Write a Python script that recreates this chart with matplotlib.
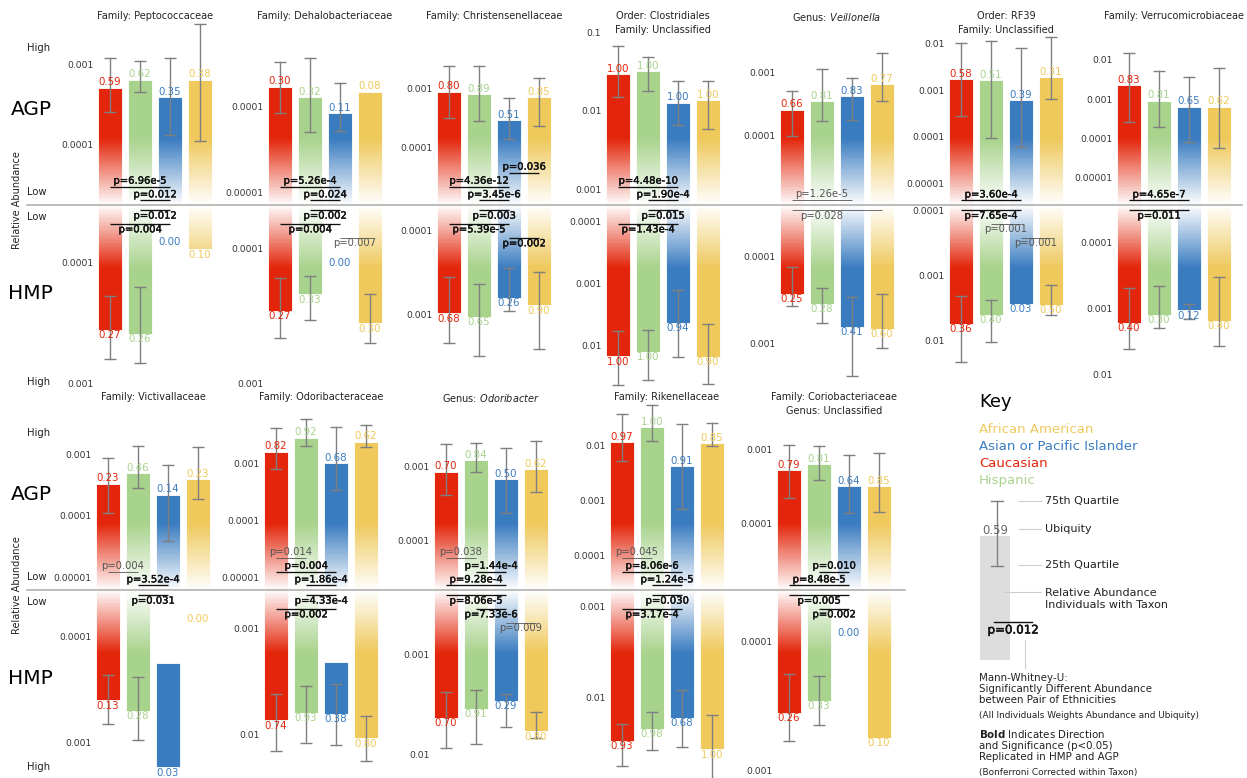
"""
Ubiquity / relative abundance of taxa by ethnicity, AGP (top) vs HMP (mirrored below).
"""
import numpy as np
import matplotlib
matplotlib.use('Agg')
import matplotlib.pyplot as plt
import matplotlib.patheffects as pe
from matplotlib.patches import Rectangle
from matplotlib.ticker import NullLocator
from matplotlib.transforms import blended_transform_factory

RED, GREEN, BLUE, YELLOW = '#E3260B', '#A8D38D', '#3A7CC0', '#EFC95C'
BAR_COLORS = [RED, GREEN, BLUE, YELLOW]
ERR_GREY = '#7F7F7F'
DARK = '#222222'
nan = np.nan

plt.rcParams.update({
    'font.family': 'DejaVu Sans',
    'mathtext.fontset': 'dejavusans',
})

# === Data (bar order: Caucasian, Hispanic, Asian/PI, African American) ===
titles = [
    'Family: Peptococcaceae', 'Family: Dehalobacteriaceae', 'Family: Christensenellaceae',
    'Order: Clostridiales\nFamily: Unclassified', 'Genus: $\\it{Veillonella}$',
    'Order: RF39\nFamily: Unclassified', 'Family: Verrucomicrobiaceae',
    'Family: Victivallaceae', 'Family: Odoribacteraceae', 'Genus: $\\it{Odoribacter}$',
    'Family: Rikenellaceae', 'Family: Coriobacteriaceae\nGenus: Unclassified',
]

agp_med = [
    [5.1e-4, 6.4e-4, 3.9e-4, 6.4e-4],
    [1.7e-4, 1.3e-4, 8.4e-5, 1.5e-4],
    [8.8e-4, 8.0e-4, 2.9e-4, 7.0e-4],
    [2.9e-2, 3.2e-2, 1.27e-2, 1.37e-2],
    [2.6e-4, 3.5e-4, 4.2e-4, 6.6e-4],
    [1.7e-3, 1.6e-3, 6.1e-4, 1.9e-3],
    [2.25e-3, 9.1e-4, 6.4e-4, 6.4e-4],
    [3.3e-4, 4.9e-4, 2.2e-4, 3.9e-4],
    [1.6e-3, 2.8e-3, 1.0e-3, 2.4e-3],
    [8.6e-4, 1.23e-3, 6.8e-4, 9.2e-4],
    [1.12e-2, 2.1e-2, 4.2e-3, 1.07e-2],
    [5.3e-4, 6.4e-4, 3.2e-4, 3.2e-4],
]
agp_q75 = [
    [1.2e-3, 1.1e-3, 1.2e-3, 3.2e-3],
    [3.3e-4, 3.7e-4, 1.9e-4, nan],
    [2.4e-3, 2.4e-3, 6.7e-4, 1.5e-3],
    [6.7e-2, 4.9e-2, 2.4e-2, 2.4e-2],
    [5.2e-4, 1.13e-3, 8.2e-4, 2.0e-3],
    [1.0e-2, 1.14e-2, 8.0e-3, 1.38e-2],
    [1.5e-2, 5.3e-3, 3.7e-3, 6.1e-3],
    [8.6e-4, 1.33e-3, 6.6e-4, 1.31e-3],
    [4.1e-3, 6.0e-3, 4.3e-3, 4.6e-3],
    [2.0e-3, 2.1e-3, 1.8e-3, 2.2e-3],
    [3.7e-2, 5.3e-2, 2.4e-2, 2.5e-2],
    [1.17e-3, 1.15e-3, 8.6e-4, 9.0e-4],
]
agp_q25 = [
    [2.5e-4, 4.5e-4, 1.3e-4, 1.1e-4],
    [8.4e-5, 5.1e-5, 5.2e-5, nan],
    [3.1e-4, 2.8e-4, 1.4e-4, 2.3e-4],
    [1.5e-2, 1.8e-2, 6.6e-3, 5.8e-3],
    [1.0e-4, 1.7e-4, 1.75e-4, 3.6e-4],
    [2.8e-4, 9.5e-5, 5.9e-5, 6.3e-4],
    [2.6e-4, 1.9e-4, 7.9e-5, 5.5e-5],
    [1.1e-4, 2.8e-4, 3.9e-5, 1.9e-4],
    [8.0e-4, 2.0e-3, 3.4e-4, 1.9e-3],
    [4.1e-4, 8.6e-4, 2.4e-4, 4.6e-4],
    [5.1e-3, 1.18e-2, 6.9e-4, 9.6e-3],
    [2.2e-4, 3.9e-4, 1.37e-4, 1.44e-4],
]
agp_ubiq = [
    [0.59, 0.62, 0.35, 0.38], [0.30, 0.32, 0.11, 0.08], [0.80, 0.89, 0.51, 0.85],
    [1.00, 1.00, 1.00, 1.00], [0.66, 0.81, 0.83, 0.77], [0.58, 0.51, 0.39, 0.31],
    [0.83, 0.81, 0.65, 0.62], [0.23, 0.46, 0.14, 0.23], [0.82, 0.92, 0.68, 0.62],
    [0.70, 0.84, 0.50, 0.62], [0.97, 1.00, 0.91, 0.85], [0.79, 0.81, 0.64, 0.85],
]

hmp_med = [
    [3.6e-4, 3.9e-4, nan, 7.8e-5],
    [2.9e-4, 2.2e-4, nan, 3.6e-4],
    [9.7e-4, 1.07e-3, 6.3e-4, 7.8e-4],
    [1.5e-2, 1.28e-2, 4.3e-3, 1.54e-2],
    [2.7e-4, 3.5e-4, 6.5e-4, 6.8e-4],
    [5.5e-3, 4.0e-3, 2.7e-3, 2.8e-3],
    [1.65e-3, 1.26e-3, 1.08e-3, 1.54e-3],
    [4.0e-4, 5.0e-4, 1.7e-3, nan],
    [7.4e-3, 6.3e-3, 6.45e-3, 1.09e-2],
    [4.3e-3, 3.5e-3, 2.9e-3, 5.9e-3],
    [3.0e-2, 2.2e-2, 1.66e-2, 3.7e-2],
    [3.6e-4, 2.9e-4, nan, 5.6e-4],
]
hmp_q25 = [
    [1.9e-4, 1.6e-4, nan, nan],
    [1.65e-4, 1.6e-4, nan, 2.2e-4],
    [3.6e-4, 4.4e-4, 2.8e-4, 3.1e-4],
    [5.9e-3, 5.6e-3, 1.3e-3, 4.6e-3],
    [1.3e-4, 2.3e-4, 2.9e-4, 2.7e-4],
    [2.05e-3, 2.4e-3, nan, 1.4e-3],
    [4.9e-4, 4.6e-4, 8.6e-4, 3.3e-4],
    [2.3e-4, 2.4e-4, nan, nan],
    [4.2e-3, 3.5e-3, 3.35e-3, 6.8e-3],
    [2.4e-3, 2.25e-3, 2.5e-3, 3.8e-3],
    [1.96e-2, 1.43e-2, 8.2e-3, 1.55e-2],
    [1.8e-4, 1.86e-4, nan, nan],
]
hmp_q75 = [
    [6.3e-4, 6.8e-4, nan, nan],
    [4.6e-4, 3.4e-4, nan, 5.0e-4],
    [2.2e-3, 3.1e-3, 9.1e-4, 2.6e-3],
    [4.4e-2, 3.6e-2, 1.54e-2, 4.2e-2],
    [3.7e-4, 5.8e-4, 2.4e-3, 1.14e-3],
    [2.15e-2, 1.04e-2, nan, 4.0e-3],
    [4.2e-3, 2.0e-3, 1.45e-3, 3.7e-3],
    [6.6e-4, 9.5e-4, nan, nan],
    [1.46e-2, 1.22e-2, 1.26e-2, 1.8e-2],
    [8.6e-3, 8.0e-3, 5.4e-3, 6.9e-3],
    [5.6e-2, 3.8e-2, 3.5e-2, 0.12],
    [5.9e-4, 4.5e-4, nan, nan],
]
hmp_ubiq = [
    [0.27, 0.26, 0.00, 0.10], [0.27, 0.33, 0.00, 0.30], [0.68, 0.65, 0.26, 0.90],
    [1.00, 1.00, 0.94, 0.90], [0.25, 0.28, 0.41, 0.60], [0.36, 0.40, 0.03, 0.50],
    [0.40, 0.30, 0.12, 0.40], [0.13, 0.28, 0.03, 0.00], [0.74, 0.93, 0.38, 0.80],
    [0.70, 0.91, 0.29, 0.80], [0.93, 0.98, 0.68, 1.00], [0.26, 0.33, 0.00, 0.10],
]

# axis range: (value at the middle line, value at the outer edge)
agp_lim = [
    (1.72e-5, 2.7e-3), (7.2e-6, 7.8e-4), (1.05e-5, 9.7e-3), (6.3e-4, 0.107),
    (8.1e-6, 4.7e-3), (3.45e-6, 1.93e-2), (1.96e-6, 5.8e-2), (6.3e-6, 4.3e-3),
    (6.1e-6, 7.0e-3), (2.15e-5, 5.0e-3), (2.4e-5, 3.5e-2), (1.23e-5, 3.0e-3),
]
hmp_lim = [
    (3.36e-5, 1.13e-3), (4.8e-5, 1.12e-3), (5.0e-5, 7.9e-3), (5.4e-5, 5.3e-2),
    (2.5e-5, 3.5e-3), (8.2e-5, 5.7e-2), (2.7e-5, 1.75e-2), (3.7e-5, 2.0e-3),
    (4.3e-4, 2.44e-2), (2.26e-4, 1.62e-2), (6.6e-4, 7.1e-2), (4.0e-5, 1.09e-3),
]
agp_ticks = [
    [1e-3, 1e-4], [1e-4, 1e-5], [1e-3, 1e-4], [1e-1, 1e-2, 1e-3], [1e-3, 1e-4],
    [1e-2, 1e-3, 1e-4, 1e-5], [1e-2, 1e-3, 1e-4, 1e-5], [1e-3, 1e-4, 1e-5],
    [1e-3, 1e-4, 1e-5], [1e-3, 1e-4], [1e-2, 1e-3, 1e-4], [1e-3, 1e-4],
]
hmp_ticks = [
    [1e-4, 1e-3], [1e-4, 1e-3], [1e-4, 1e-3], [1e-4, 1e-3, 1e-2], [1e-4, 1e-3],
    [1e-4, 1e-3, 1e-2], [1e-4, 1e-3, 1e-2], [1e-4, 1e-3], [1e-3, 1e-2],
    [1e-3, 1e-2], [1e-3, 1e-2], [1e-4, 1e-3],
]

# HMP bars that start away from the middle line, and labels for absent groups
hmp_bar_bottom = {7: (2, 1.77e-4), 8: (2, 2.07e-3)}
hmp_zero_label = {0: (2, 6.8e-5), 1: (2, 1.29e-4), 7: (3, 6.9e-5), 11: (2, 8.6e-5)}

# Mann-Whitney-U: (bar i, bar j, stack level, text, bold[, text x])
agp_pvals = [
    [(0, 2, 1, 'p=6.96e-5', True), (1, 2, 0, 'p=0.012', True)],
    [(0, 2, 1, 'p=5.26e-4', True), (1, 2, 0, 'p=0.024', True)],
    [(2, 3, 2, 'p=0.036', True), (0, 2, 1, 'p=4.36e-12', True), (1, 2, 0, 'p=3.45e-6', True)],
    [(0, 2, 1, 'p=4.48e-10', True), (1, 2, 0, 'p=1.90e-4', True)],
    [(0, 2, 0, 'p=1.26e-5', False)],
    [(0, 2, 0, 'p=3.60e-4', True)],
    [(0, 2, 0, 'p=4.65e-7', True)],
    [(0, 1, 1, 'p=0.004', False), (1, 2, 0, 'p=3.52e-4', True)],
    [(0, 1, 2, 'p=0.014', False), (0, 2, 1, 'p=0.004', True), (1, 2, 0, 'p=1.86e-4', True)],
    [(0, 1, 2, 'p=0.038', False), (1, 2, 1, 'p=1.44e-4', True), (0, 2, 0, 'p=9.28e-4', True)],
    [(0, 1, 2, 'p=0.045', False), (0, 2, 1, 'p=8.06e-6', True), (1, 2, 0, 'p=1.24e-5', True)],
    [(1, 2, 1, 'p=0.010', True), (0, 2, 0, 'p=8.48e-5', True)],
]
hmp_pvals = [
    [(1, 2, 0, 'p=0.012', True), (0, 2, 1, 'p=0.004', True)],
    [(1, 2, 0, 'p=0.002', True), (0, 2, 1, 'p=0.004', True), (2, 3, 2, 'p=0.007', False)],
    [(1, 2, 0, 'p=0.003', True), (0, 2, 1, 'p=5.39e-5', True), (2, 3, 2, 'p=0.002', True)],
    [(1, 2, 0, 'p=0.015', True), (0, 2, 1, 'p=1.43e-4', True)],
    [(0, 3, 0, 'p=0.028', False, 1.0)],
    [(0, 2, 0, 'p=7.65e-4', True), (1, 2, 1, 'p=0.001', False), (2, 3, 2, 'p=0.001', False)],
    [(0, 2, 0, 'p=0.011', True)],
    [(1, 2, 0, 'p=0.031', True)],
    [(1, 2, 0, 'p=4.33e-4', True), (0, 2, 1, 'p=0.002', True)],
    [(0, 2, 0, 'p=8.06e-5', True), (1, 2, 1, 'p=7.33e-6', True), (2, 3, 2, 'p=0.009', False)],
    [(1, 2, 0, 'p=0.030', True), (0, 2, 1, 'p=3.17e-4', True)],
    [(0, 2, 0, 'p=0.005', True), (1, 2, 1, 'p=0.002', True)],
]

key_names = ['African American', 'Asian or Pacific Islander', 'Caucasian', 'Hispanic']
key_colors = [YELLOW, BLUE, RED, GREEN]

# === Layout (pixels) ===
W, H = 1247, 778
ROWS = [(30, 205, 390), (415, 590, 775)]          # agp top, middle line, hmp bottom
LEFTS = [[95, 265, 434, 603, 777, 946, 1114], [93, 261, 431, 607, 774]]
AX_W = 120
LEVELS = [4.8, 18.5, 32.5]                         # p-value line offsets from middle
FADE_AGP, FADE_HMP = 0.38, 0.34

fig = plt.figure(figsize=(W / 100, H / 100), dpi=100, facecolor='white')


def px_axes(left, top, width, height):
    return fig.add_axes([left / W, 1 - (top + height) / H, width / W, height / H])


def draw_study(ax, k, med, q25, q75, ubiq, lim, ticks, pvals, flip, h_px):
    base, far = lim
    ax.set_yscale('log')
    ax.set_xlim(-0.5, 3.5)
    ax.set_ylim((far, base) if flip else (base, far))
    for s in ax.spines.values():
        s.set_visible(False)
    ax.set_xticks([])
    ax.set_yticks(ticks)
    ax.set_yticklabels([np.format_float_positional(t, trim='-') for t in ticks])
    ax.yaxis.set_minor_locator(NullLocator())
    ax.tick_params(axis='y', length=0, pad=1.2, labelsize=6.6, labelcolor='#333333')
    ax.patch.set_alpha(0)

    bottoms = dict([hmp_bar_bottom[k]]) if (flip and k in hmp_bar_bottom) else {}
    for i in range(4):
        c = BAR_COLORS[i]
        if np.isnan(med[i]):
            continue
        b = bottoms.get(i, base)
        ax.bar(i, med[i] - b, bottom=b, width=0.8, color=c, edgecolor='white',
               linewidth=0.6, zorder=1)
        if not np.isnan(q25[i]):
            ax.plot([i, i], [q25[i], q75[i]], color=ERR_GREY, lw=1.0, zorder=4, clip_on=False)
            ax.plot([i, i], [q25[i], q75[i]], ls='none', marker='_', ms=9, mew=1.0,
                    color=ERR_GREY, zorder=4, clip_on=False)
        ax.annotate(f'{ubiq[i]:.2f}', xy=(i, med[i]), xytext=(0, -0.3 if flip else 0.3),
                    textcoords='offset points', ha='center', va='top' if flip else 'bottom',
                    fontsize=7.4, color=c, zorder=6, annotation_clip=False)

    if flip and k in hmp_zero_label:
        i, v = hmp_zero_label[k]
        ax.text(i, v, f'{ubiq[i]:.2f}', ha='center', va='center', fontsize=7.4,
                color=BAR_COLORS[i], zorder=6, clip_on=False)

    # white fade towards the middle line
    n = 48
    fade = FADE_HMP if flip else FADE_AGP
    for s in range(n):
        y0 = 1 - (s + 1) * fade / n if flip else s * fade / n
        ax.add_patch(Rectangle((0, y0), 1, fade / n, transform=ax.transAxes,
                               facecolor='white', alpha=1 - (s + 0.5) / n, lw=0,
                               antialiased=False, zorder=2))

    tr = blended_transform_factory(ax.transData, ax.transAxes)
    for p in pvals:
        i, j, lvl, txt, bold = p[:5]
        tx = p[5] if len(p) > 5 else (i + j) / 2
        off = LEVELS[lvl] / h_px
        y = 1 - off if flip else off
        col = '#111111' if bold else '#555555'
        ax.plot([i, j], [y, y], transform=tr, color=col, lw=0.95 if bold else 0.6,
                solid_capstyle='butt', zorder=5, clip_on=False)
        effects = [pe.withStroke(linewidth=0.3, foreground=col)] if bold else []
        ax.annotate(txt, xy=(tx, y), xycoords=tr, xytext=(0, -0.6 if flip else 0.6),
                    textcoords='offset points', ha='center', va='top' if flip else 'bottom',
                    fontsize=7.2, color=col, zorder=6, path_effects=effects,
                    annotation_clip=False)


k = 0
centers = []
for r, (top, mid, bot) in enumerate(ROWS):
    for left in LEFTS[r]:
        a_agp = px_axes(left, top, AX_W, mid - top)
        a_hmp = px_axes(left, mid, AX_W, bot - mid)
        draw_study(a_agp, k, agp_med[k], agp_q25[k], agp_q75[k], agp_ubiq[k],
                   agp_lim[k], agp_ticks[k], agp_pvals[k], False, mid - top)
        draw_study(a_hmp, k, hmp_med[k], hmp_q25[k], hmp_q75[k], hmp_ubiq[k],
                   hmp_lim[k], hmp_ticks[k], hmp_pvals[k], True, bot - mid)
        centers.append((left + AX_W / 2, 11 if r == 0 else 392))
        k += 1

# === Figure-level overlay: titles, middle lines, row labels, key ===
ov = fig.add_axes([0, 0, 1, 1], zorder=10)
ov.set_xlim(0, W)
ov.set_ylim(H, 0)
ov.axis('off')
ov.patch.set_alpha(0)

for (cx, ty), t in zip(centers, titles):
    ov.text(cx, ty, t, ha='center', va='top', fontsize=7, color=DARK, linespacing=1.45)

ov.plot([27, 1242], [205, 205], color='#AAAAAA', lw=1.1)
ov.plot([27, 905], [590, 590], color='#AAAAAA', lw=1.1)

for dy in (0, 385):
    for y, s in [(48, 'High'), (192, 'Low'), (217, 'Low'), (382, 'High')]:
        ov.text(27, y + dy, s, va='center', ha='left', fontsize=7.2, color=DARK)
    ov.text(31, 109 + dy, 'AGP', ha='center', va='center', fontsize=14.5, color='black')
    ov.text(30, 293 + dy, 'HMP', ha='center', va='center', fontsize=14.5, color='black')
    ov.text(17, 200 + dy, 'Relative Abundance', rotation=90, ha='center', va='center',
            fontsize=7, color=DARK)

# Key
ov.text(979, 402, 'Key', fontsize=13, va='center', ha='left', color='black')
for n_, (name, c) in enumerate(zip(key_names, key_colors)):
    ov.text(979, 429 + n_ * 17, name, fontsize=9.5, color=c, va='center', ha='left')

ov.add_patch(Rectangle((980, 536), 30, 124, facecolor='#DDDDDD', edgecolor='none'))
ov.plot([997, 997], [501, 566], color=ERR_GREY, lw=1.0)
ov.plot([991, 1003], [501, 501], color=ERR_GREY, lw=1.0)
ov.plot([991, 1003], [566, 566], color=ERR_GREY, lw=1.0)
ov.text(995, 530, '0.59', ha='center', va='center', fontsize=8.4, color='#666666')

for y0, x0, txt in [(501, 1019, '75th Quartile'), (529, 1019, 'Ubiquity'),
                    (565, 1019, '25th Quartile'),
                    (592, 1004, 'Relative Abundance\nIndividuals with Taxon')]:
    ov.plot([x0, 1041], [y0, y0], color='#CCCCCC', lw=0.8)
    ov.text(1045, y0 + (7 if '\n' in txt else 0), txt, va='center', ha='left',
            fontsize=8, color=DARK, linespacing=1.15)

ov.plot([994, 1032], [622, 622], color='#111111', lw=1.0)
ov.text(1013, 630, 'p=0.012', ha='center', va='center', fontsize=8.5, color='#111111',
        path_effects=[pe.withStroke(linewidth=0.4, foreground='#111111')])
ov.plot([1025, 1025], [640, 668], color='#CCCCCC', lw=0.8)

ov.text(979, 673, 'Mann-Whitney-U:\nSignificantly Different Abundance\nbetween Pair of Ethnicities',
        va='top', ha='left', fontsize=7.4, color=DARK, linespacing=1.12)
ov.text(979, 716, '(All Individuals Weights Abundance and Ubiquity)', va='center',
        ha='left', fontsize=6.4, color=DARK)
ov.text(979, 728, '$\\bf{Bold}$ Indicates Direction\nand Significance (p<0.05)\nReplicated in HMP and AGP',
        va='top', ha='left', fontsize=7.4, color=DARK, linespacing=1.12)
ov.text(979, 772, '(Bonferroni Corrected within Taxon)', va='center', ha='left',
        fontsize=6.4, color=DARK)

plt.savefig('out.png', dpi=100, facecolor='white')
plt.close()
print('Saved: out.png')
